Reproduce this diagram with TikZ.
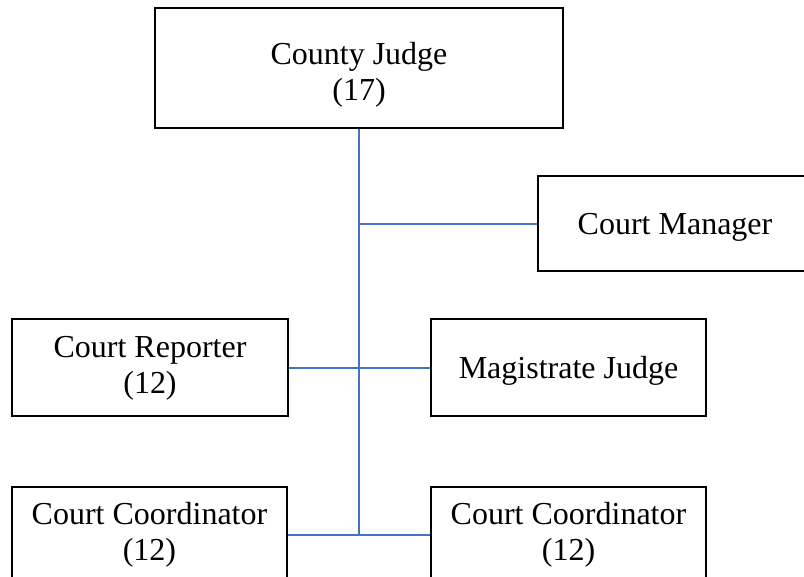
\documentclass[tikz,border=0pt]{standalone}
\usepackage{fontspec}
\setmainfont{Liberation Serif}
\begin{document}
\begin{tikzpicture}[x=1pt,y=-1pt,
  orgbox/.style={draw=black, line width=2pt, fill=white, align=center,
    inner sep=0pt, font=\fontsize{32}{36}\selectfont},
  oneline/.style={text height=25pt, text depth=4pt},
  boxtext/.style={align=center, inner sep=0pt, font=\fontsize{32}{36}\selectfont},
  link/.style={draw=linkblue, line width=1.5pt}]
\definecolor{linkblue}{HTML}{4472C4}
\clip (0,0) rectangle (804,577);
\useasboundingbox (0,0) rectangle (804,577);

% boxes
\node[orgbox, minimum width=408pt, minimum height=120pt] (judge) at (359,68) {};
\node[boxtext] (judgeText) at (359,75) {County Judge\\(17)};
\node[orgbox, oneline, minimum width=274pt, minimum height=95pt] (manager) at (675,224) {Court Manager};
\node[orgbox, minimum width=276pt, minimum height=97pt] (reporter) at (150,368) {Court Reporter\\(12)};
\node[orgbox, oneline, minimum width=275pt, minimum height=97pt] (magistrate) at (568.5,368) {Magistrate Judge};
\node[orgbox, minimum width=275pt, minimum height=96pt] (coordL) at (149.5,535) {Court Coordinator\\(12)};
\node[orgbox, minimum width=275pt, minimum height=96pt] (coordR) at (568.5,535) {Court Coordinator\\(12)};

% junctions on the trunk line
\coordinate (jManager) at (judge.south |- manager.west);
\coordinate (jLow) at (judge.south |- coordL.east);

% connectors
\draw[link] (judge.south) -- (jLow);
\draw[link] (jManager) -- (manager.west);
\draw[link] (reporter.east) -- (magistrate.west);
\draw[link] (coordL.east) -- (coordR.west);
\end{tikzpicture}
\end{document}
